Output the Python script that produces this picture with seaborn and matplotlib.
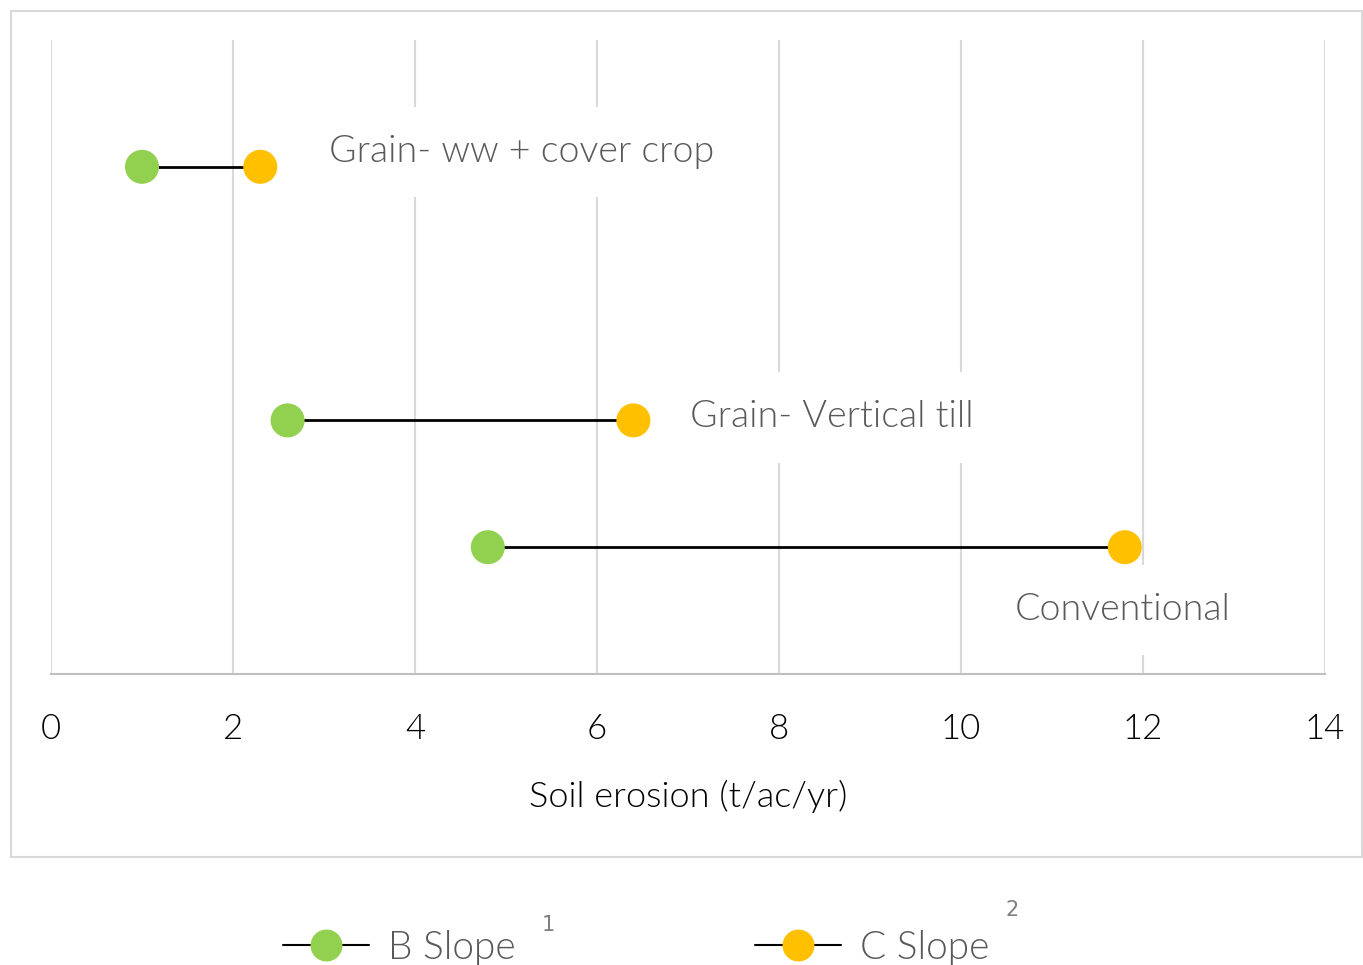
import matplotlib
matplotlib.use("Agg")
import matplotlib.pyplot as plt
from matplotlib.lines import Line2D
from matplotlib.patches import Rectangle
import seaborn as sns
import pandas as pd

# ===============================
# DATA
# ===============================
practices = ["Grain- ww + cover crop", "Grain- Vertical till", "Conventional"]
row_pos = [0.8, 0.4, 0.2]
b_slope = [1.0, 2.6, 4.8]
c_slope = [2.3, 6.4, 11.8]
x_ticks = [0, 2, 4, 6, 8, 10, 12, 14]
series_names = ["B Slope", "C Slope"]
superscripts = ["1", "2"]

GREEN = "#92d050"
ORANGE = "#ffc000"
TEXT_GRAY = "#595959"

sns.set_style("white")
plt.rcParams["font.family"] = ["Lato", "DejaVu Sans"]
plt.rcParams["font.weight"] = 300
plt.rcParams["axes.labelweight"] = 300

df = pd.DataFrame({
    "practice": practices * 2,
    "y": row_pos * 2,
    "erosion": b_slope + c_slope,
    "series": [series_names[0]] * 3 + [series_names[1]] * 3,
})

fig = plt.figure(figsize=(13.63, 9.65), dpi=100)
ax = fig.add_axes([51 / 1363, 291 / 965, 1274 / 1363, 634 / 965])

# outer chart border
fig.patches.append(Rectangle((11 / 1363, 108 / 965), 1351 / 1363, 846 / 965,
                             transform=fig.transFigure, fill=False,
                             edgecolor="#d9d9d9", lw=1.5))

# connectors
ax.hlines(row_pos, b_slope, c_slope, color="black", lw=2, zorder=3)

sns.scatterplot(data=df, x="erosion", y="y", hue="series",
                palette=[GREEN, ORANGE], s=600, edgecolor="none",
                legend=False, zorder=4, ax=ax)

# data labels (white box hides the gridlines behind them)
offsets = [(69, 15, "left"), (57, 3, "left"), (-2, -63, "center")]
for name, y, xc, (dx, dy, ha) in zip(practices, row_pos, c_slope, offsets):
    ax.annotate(name, xy=(xc, y), xytext=(dx, dy), textcoords="offset pixels",
                ha=ha, va="center", fontsize=27, color=TEXT_GRAY, zorder=5,
                bbox=dict(boxstyle="square,pad=0.75", facecolor="white", edgecolor="none"))

ax.set_xlim(0, 14)
ax.set_ylim(0, 1)
ax.set_xticks(x_ticks)
ax.set_yticks([])
ax.xaxis.grid(True, color="#d9d9d9", lw=1.5)
ax.set_axisbelow(True)
for side in ["left", "right", "top"]:
    ax.spines[side].set_visible(False)
ax.spines["bottom"].set_color("#bfbfbf")
ax.spines["bottom"].set_linewidth(1.5)
ax.tick_params(axis="x", length=0, pad=28, labelsize=25, labelcolor="black")
ax.set_xlabel("Soil erosion (t/ac/yr)", fontsize=26, color="black", labelpad=25)
ax.set_ylabel("")

# legend
handles = [
    Line2D([], [], color="black", lw=1.5, marker="o", markersize=22,
           markerfacecolor=GREEN, markeredgecolor=GREEN),
    Line2D([], [], color="black", lw=1.5, marker="o", markersize=22,
           markerfacecolor=ORANGE, markeredgecolor=ORANGE),
]
leg = fig.legend(handles, series_names, loc="center", bbox_to_anchor=(0.467, 0.018),
                 ncol=2, frameon=False, fontsize=28, handlelength=2.2,
                 columnspacing=6.15, handletextpad=0.5)
for t in leg.get_texts():
    t.set_color(TEXT_GRAY)

fig.text(548 / 1363, 1 - 925 / 965, superscripts[0], fontsize=15, color="#7f7f7f",
         ha="center", va="center", family="DejaVu Sans")
fig.text(1012 / 1363, 1 - 910 / 965, superscripts[1], fontsize=15, color="#7f7f7f",
         ha="center", va="center", family="DejaVu Sans")

fig.savefig("out.png", dpi=100)
